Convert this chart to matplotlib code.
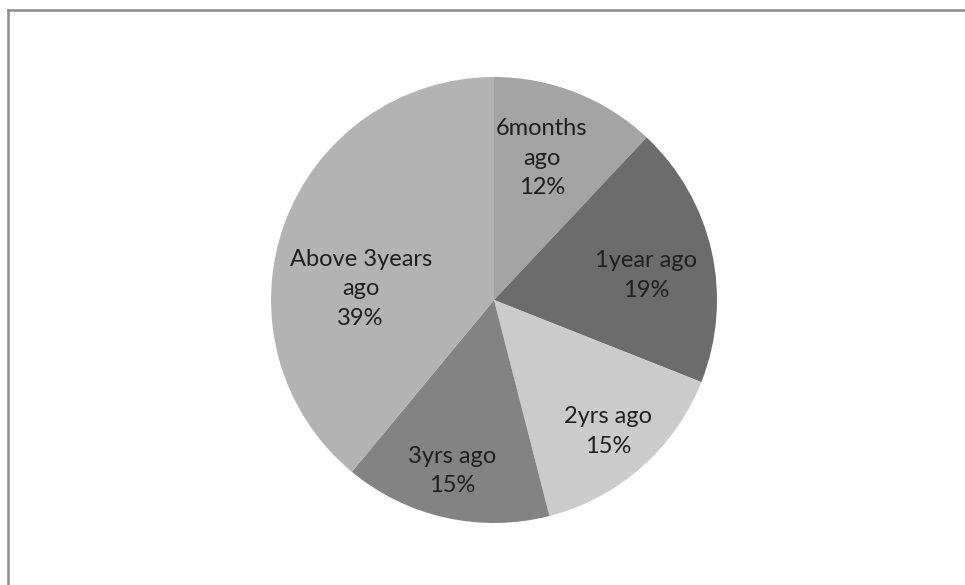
import matplotlib.pyplot as plt
import numpy as np
from matplotlib.lines import Line2D

labels = ["6months\nago\n12%", "1year ago\n19%", "2yrs ago\n15%", "3yrs ago\n15%", "Above 3years\nago\n39%"]
shares = [12, 19, 15, 15, 39]
colors = ["#a4a4a4", "#6c6c6c", "#cbcbcb", "#838383", "#b3b3b3"]

plt.rcParams['font.family'] = ['Lato', 'DejaVu Sans']

fig = plt.figure(figsize=(9.65, 5.85), dpi=100)

# pie placed in pixels: centre (494, 300) from top-left, radius 223
W, H = 965.0, 585.0
cx, cy, r = 494, 300, 223
ax = fig.add_axes([(cx - r) / W, (H - cy - r) / H, 2 * r / W, 2 * r / H])
wedges, _ = ax.pie(shares, colors=colors, startangle=90, counterclock=False,
                   wedgeprops=dict(linewidth=0))
ax.set_xlim(-1, 1)
ax.set_ylim(-1, 1)
ax.set_aspect('equal')

# label placement per slice: (angle shift in degrees, radius fraction)
place = [(3, 0.67), (-3.5, 0.69), (-0.5, 0.78), (-1, 0.79), (15, 0.60)]
for w, lab, (da, fr) in zip(wedges, labels, place):
    ang = np.deg2rad((w.theta1 + w.theta2) / 2 + da)
    ax.text(fr * np.cos(ang), fr * np.sin(ang), lab, ha='center', va='center',
            fontsize=17, color='#1f1f1f', linespacing=1.5)

# outer frame (left and top edges visible)
fig.add_artist(Line2D([8 / W, 8 / W], [0, 1 - 10 / H], transform=fig.transFigure,
                      color='#8c8c8c', lw=1.8))
fig.add_artist(Line2D([8 / W, 1], [1 - 10 / H, 1 - 10 / H], transform=fig.transFigure,
                      color='#8c8c8c', lw=1.8))

fig.savefig("out.png", dpi=100, facecolor='white')
